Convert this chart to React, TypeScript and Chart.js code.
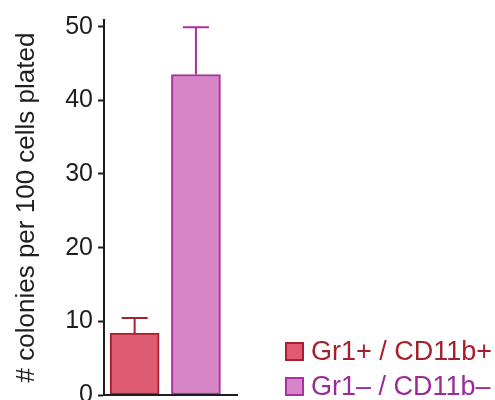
import React, { useEffect, useRef } from "react";
import { Chart, registerables } from "chart.js";

Chart.register(...registerables);

const categories = ["Gr1+ / CD11b+", "Gr1– / CD11b–"];
const means = [8.4, 43.5];
const errorTops = [10.45, 49.9];
const yTicks = [0, 10, 20, 30, 40, 50];
const yTitle = "# colonies per 100 cells plated";

const fillColors = ["#de5c72", "#d686c7"];
const borderColors = ["#a82030", "#a830a0"];
const textColors = ["#a3202d", "#9a2a95"];
const FONT = "'Liberation Sans', Arial, Helvetica, sans-serif";

const errorBarPlugin = {
  id: "errorBars",
  afterDatasetsDraw(chart: any) {
    const meta = chart.getDatasetMeta(0);
    const y = chart.scales.y;
    const ctx = chart.ctx;
    ctx.save();
    meta.data.forEach((el: any, i: number) => {
      const top = y.getPixelForValue(errorTops[i]);
      ctx.strokeStyle = borderColors[i];
      ctx.lineWidth = 2;
      ctx.beginPath();
      ctx.moveTo(el.x, el.y);
      ctx.lineTo(el.x, top);
      ctx.moveTo(el.x - 13, top);
      ctx.lineTo(el.x + 13, top);
      ctx.stroke();
    });
    ctx.restore();
  },
};

const legendPlugin = {
  id: "customLegend",
  afterDraw(chart: any) {
    const ctx = chart.ctx;
    ctx.save();
    categories.forEach((label, i) => {
      const bx = 286;
      const by = 343 + i * 35;
      ctx.fillStyle = fillColors[i];
      ctx.fillRect(bx, by, 17, 17);
      ctx.strokeStyle = borderColors[i];
      ctx.lineWidth = 2;
      ctx.strokeRect(bx, by, 17, 17);
      ctx.fillStyle = textColors[i];
      ctx.font = `27px ${FONT}`;
      ctx.textBaseline = "alphabetic";
      ctx.textAlign = "left";
      ctx.fillText(label, 311, by + 17);
    });
    ctx.restore();
  },
};

export default function App() {
  const ref = useRef<HTMLCanvasElement | null>(null);
  useEffect(() => {
    if (!ref.current) return;
    const chart = new Chart(ref.current, {
      type: "bar",
      data: {
        datasets: [
          {
            data: means.map((v, i) => ({ x: i + 0.5, y: v })),
            backgroundColor: fillColors,
            borderColor: borderColors,
            borderWidth: 2,
            borderSkipped: false,
            barThickness: 49,
          },
        ],
      },
      options: {
        animation: false,
        responsive: true,
        maintainAspectRatio: false,
        layout: { padding: { left: 0, right: 258, top: 20, bottom: 20 } },
        plugins: { legend: { display: false }, tooltip: { enabled: false } },
        scales: {
          x: {
            type: "linear",
            min: 0,
            max: 2.17,
            offset: false,
            grid: { display: false, drawTicks: false, offset: false },
            ticks: { display: false },
            border: { display: true, color: "#1e1e1e", width: 2, z: 1 },
            afterFit: (s: any) => {
              s.height = 0;
            },
          },
          y: {
            min: 0,
            max: 50.9,
            afterBuildTicks: (s: any) => {
              s.ticks = yTicks.map((v) => ({ value: v }));
            },
            grid: {
              drawOnChartArea: false,
              drawTicks: true,
              tickLength: 6,
              tickWidth: 2,
              tickColor: "#1e1e1e",
            },
            border: { display: true, color: "#1e1e1e", width: 2, z: 1 },
            ticks: {
              color: "#1e1e1e",
              padding: 5,
              font: { family: FONT, size: 25 },
            },
            title: {
              display: true,
              text: yTitle,
              color: "#1e1e1e",
              font: { family: FONT, size: 26 },
              padding: { top: 11, bottom: 0 },
            },
            afterFit: (s: any) => {
              s.width = 104;
            },
          },
        },
      },
      plugins: [errorBarPlugin, legendPlugin],
    });
    return () => chart.destroy();
  }, []);
  return (
    <div style={{ position: "absolute", left: 0, top: 0, width: 495, height: 415 }}>
      <canvas ref={ref} />
    </div>
  );
}
